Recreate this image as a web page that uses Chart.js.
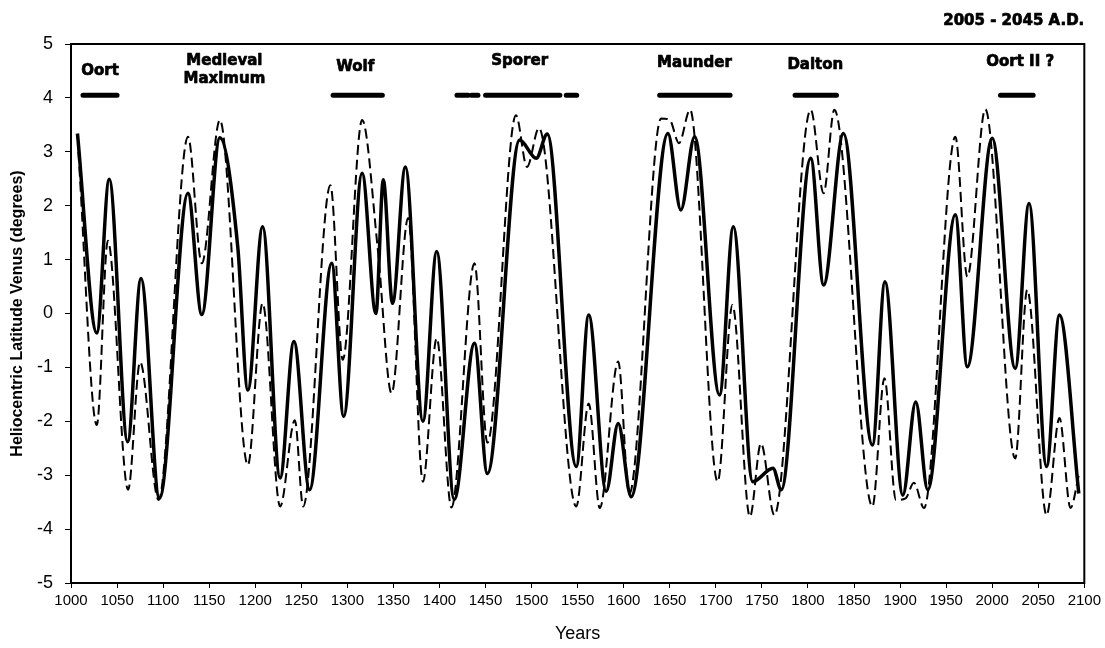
<!DOCTYPE html>
<html>
<head>
<meta charset="utf-8">
<script src="https://cdn.jsdelivr.net/npm/chart.js@4.4.1/dist/chart.umd.min.js"></script>
<style>
  html, body { margin: 0; padding: 0; background: #fff; }
  #wrap { width: 1105px; height: 648px; }
</style>
</head>
<body>
<div id="wrap"><canvas id="venusChart" width="1105" height="648"></canvas></div>
<script>
// Heliocentric latitude of Venus, two curves

// thick solid curve
const solidYears = [1007, 1028, 1041.5, 1061.5, 1076, 1096, 1127, 1142, 1161.6, 1181, 1192, 1208, 1227, 1242, 1259,
  1283, 1296, 1316, 1331, 1339, 1349, 1363, 1382, 1397, 1416, 1438, 1452, 1487, 1505, 1517, 1548.5, 1562, 1581,
  1594, 1608, 1648, 1662, 1677, 1704, 1719, 1740, 1762, 1771, 1803, 1817, 1838.5, 1870, 1883.6, 1903, 1917, 1930,
  1960, 1973, 2000, 2025, 2040, 2059, 2073, 2094];
const solidValues = [3.34, -0.36, 2.49, -2.38, 0.65, -3.43, 2.23, -0.02, 3.26, 1.24, -1.42, 1.61, -3.05, -0.52, -3.27,
  0.93, -1.91, 2.6, 0.0, 2.48, 0.19, 2.72, -2.0, 1.15, -3.45, -0.55, -2.97, 3.22, 2.88, 3.33, -2.84, -0.03, -3.3,
  -2.04, -3.4, 3.34, 1.92, 3.28, -1.51, 1.61, -3.12, -2.87, -3.27, 2.88, 0.53, 3.34, -2.44, 0.59, -3.37, -1.64, -3.27,
  1.83, -0.99, 3.25, -1.02, 2.04, -2.84, -0.03, -3.34];

// thin dashed curve
const dashedYears = [1008, 1028, 1040, 1062, 1075, 1095, 1127, 1142, 1161.6, 1192, 1208, 1227, 1243, 1252, 1281.6,
  1295, 1316, 1333, 1348, 1366, 1382, 1397, 1413, 1438, 1452, 1483, 1495, 1508, 1548.5, 1562, 1574, 1594, 1606,
  1640.6, 1650, 1660, 1672, 1702, 1718, 1737, 1749, 1763.5, 1803, 1817, 1828.6, 1870, 1883, 1895.5, 1906, 1915,
  1926, 1960, 1973, 1992.5, 2025, 2038, 2059, 2073, 2085, 2094];
const dashedValues = [3.0, -2.07, 1.35, -3.27, -0.9, -3.46, 3.28, 0.93, 3.59, -2.81, 0.19, -3.58, -1.98, -3.58, 2.38,
  -0.86, 3.59, 1.2, -1.48, 1.77, -3.12, -0.46, -3.6, 0.93, -2.4, 3.68, 2.72, 3.44, -3.58, -1.67, -3.61, -0.89, -3.35,
  3.62, 3.59, 3.16, 3.78, -3.12, 0.16, -3.77, -2.41, -3.74, 3.78, 2.23, 3.78, -3.58, -1.2, -3.46, -3.43, -3.14,
  -3.61, 3.28, 0.68, 3.79, -2.69, 0.44, -3.74, -1.94, -3.61, -3.0];

// solar minimum / maximum periods (bars drawn near the top)
const periodStarts = [1013, 1284.5, 1419, 1434.6, 1450, 1537.6, 1639, 1786, 2009];
const periodEnds = [1050, 1338, 1431, 1441.8, 1530.7, 1549, 1715.5, 1831, 2044.5];
const periodLevel = 4.05;

// period names
const labelTexts = [['Oort'], ['Medieval', 'Maximum'], ['Wolf'], ['Sporer'], ['Maunder'], ['Dalton'], ['Oort II ?']];
const labelYears = [1031.5, 1166.5, 1308.6, 1487, 1676.8, 1808, 2030.4];
const labelValues = [4.5, 4.68, 4.58, 4.68, 4.64, 4.61, 4.66];
const cornerNote = '2005 - 2045 A.D.';

const toPoints = (xs, ys) => xs.map((x, i) => ({ x: x, y: ys[i] }));

const periodPoints = periodStarts.flatMap((s, i) => [
  { x: s, y: periodLevel },
  { x: periodEnds[i], y: periodLevel },
  { x: periodEnds[i], y: null }
]);

// heavy text: fill plus a thin stroke, the original uses a black-weight face
function heavyText(ctx, t, px, py) {
  ctx.strokeText(t, px, py);
  ctx.fillText(t, px, py);
}

// frame box, period names and the note in the top right corner
const overlayPlugin = {
  id: 'overlay',
  afterDraw(chart) {
    const { ctx, chartArea: a, scales: { x, y } } = chart;
    ctx.save();
    ctx.strokeStyle = '#000';
    ctx.lineWidth = 2;
    ctx.strokeRect(a.left, a.top, a.right - a.left, a.bottom - a.top);

    ctx.fillStyle = '#000';
    ctx.lineWidth = 0.7;
    ctx.lineJoin = 'round';
    ctx.font = 'bold 15px "DejaVu Sans", sans-serif';
    ctx.textAlign = 'center';
    ctx.textBaseline = 'middle';
    labelTexts.forEach((lines, i) => {
      const px = x.getPixelForValue(labelYears[i]);
      const py = y.getPixelForValue(labelValues[i]);
      lines.forEach((t, j) => heavyText(ctx, t, px, py + j * 18));
    });

    ctx.textAlign = 'right';
    ctx.font = 'bold 15px "DejaVu Sans", sans-serif';
    heavyText(ctx, cornerNote, a.right, 21);
    ctx.restore();
  }
};

new Chart(document.getElementById('venusChart'), {
  type: 'line',
  data: {
    datasets: [
      {
        label: 'dashed',
        data: toPoints(dashedYears, dashedValues),
        borderColor: '#000',
        borderWidth: 2,
        borderDash: [10, 5],
        pointRadius: 0,
        cubicInterpolationMode: 'monotone',
        fill: false
      },
      {
        label: 'solid',
        data: toPoints(solidYears, solidValues),
        borderColor: '#000',
        borderWidth: 3.5,
        pointRadius: 0,
        cubicInterpolationMode: 'monotone',
        fill: false
      },
      {
        label: 'periods',
        data: periodPoints,
        borderColor: '#000',
        borderWidth: 5,
        borderCapStyle: 'round',
        pointRadius: 0,
        spanGaps: false,
        tension: 0,
        fill: false
      }
    ]
  },
  options: {
    responsive: false,
    animation: false,
    layout: { padding: { top: 44, right: 20, left: 0, bottom: 0 } },
    plugins: {
      legend: { display: false },
      tooltip: { enabled: false }
    },
    scales: {
      x: {
        type: 'linear',
        min: 1000,
        max: 2100,
        afterFit: (s) => { s.height = 65; },
        ticks: {
          stepSize: 50,
          autoSkip: false,
          maxRotation: 0,
          padding: 4,
          color: '#000',
          font: { family: '"Liberation Sans Narrow", "Liberation Sans", sans-serif', size: 15 },
          callback: (v) => String(v)
        },
        grid: { drawOnChartArea: false, tickLength: 5, color: '#000' },
        border: { color: '#000', width: 2 },
        title: {
          display: true,
          text: 'Years',
          color: '#000',
          font: { family: '"Liberation Sans", sans-serif', size: 18 },
          padding: { top: 0, bottom: 3 }
        }
      },
      y: {
        min: -5,
        max: 5,
        afterFit: (s) => { s.width = 71; },
        ticks: {
          stepSize: 1,
          padding: 12,
          color: '#000',
          font: { family: '"Liberation Sans", sans-serif', size: 18 }
        },
        grid: { drawOnChartArea: false, tickLength: 6, color: '#000' },
        border: { color: '#000', width: 2 },
        title: {
          display: true,
          text: 'Heliocentric Latitude Venus (degrees)',
          color: '#000',
          font: { family: '"Liberation Sans", sans-serif', size: 16, weight: 'bold' },
          padding: { top: 8, bottom: 0 }
        }
      }
    }
  },
  plugins: [overlayPlugin]
});
</script>
</body>
</html>
